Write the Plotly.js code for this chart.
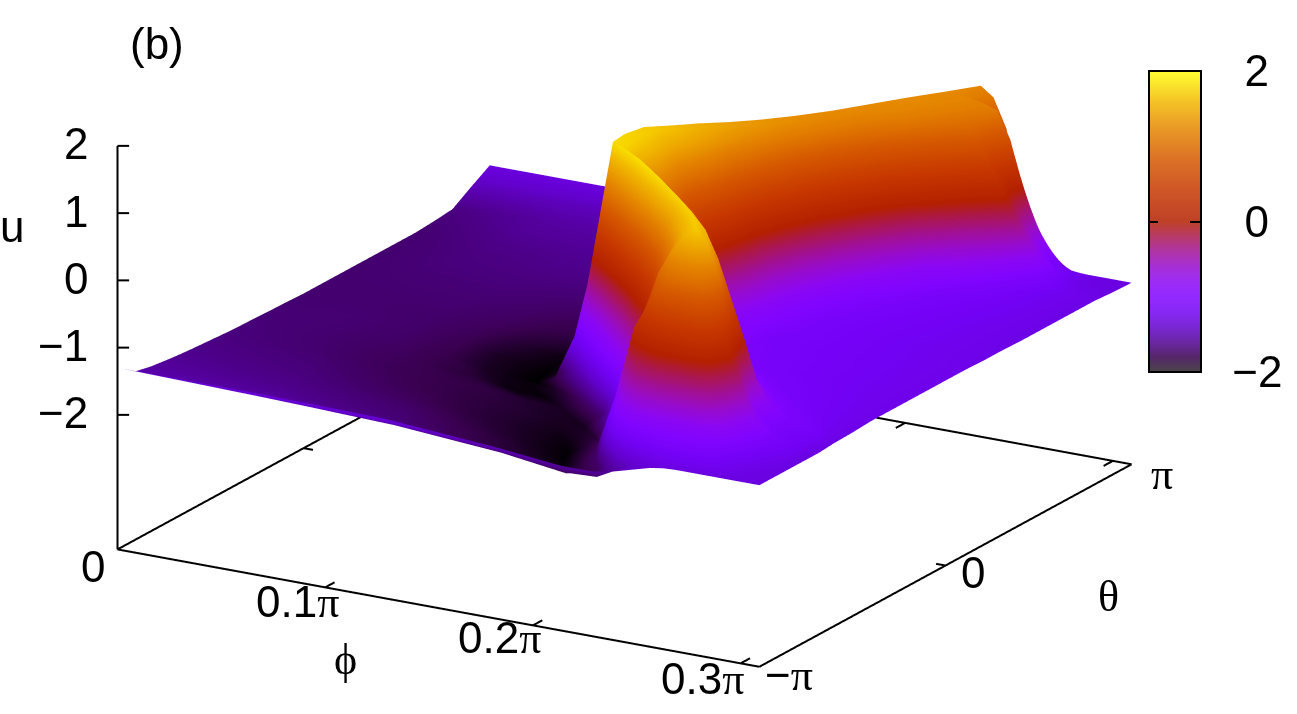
<!DOCTYPE html>
<html>
<head>
<meta charset="utf-8">
<script src="https://cdn.plot.ly/plotly-3.0.1.min.js"></script>
<style>html,body{margin:0;padding:0;background:#fff}#chart{width:1297px;height:714px}</style>
</head>
<body>
<div id="chart"></div>
<script>
// theta in units of pi, one value per row
const thetaValues = [-1, -0.96, -0.9, -0.82, -0.74, -0.68, -0.6, -0.5, -0.4, -0.3, -0.2, -0.1, 0, 0.1, 0.2, 0.3, 0.4, 0.5, 0.6, 0.7, 0.8, 0.9, 1];
// where the crest of the ridge sits in each row, as a share of the phi axis
const ridgeValues = [0.89, 0.885, 0.87, 0.845, 0.82, 0.81, 0.78, 0.73, 0.67, 0.61, 0.54, 0.53, 0.53, 0.545, 0.557, 0.575, 0.595, 0.62, 0.65, 0.68, 0.71, 0.74, 0.765];

// the columns follow the crest, so the ridge stays smooth between rows
const outerLeft = [0, 0.3, 0.6, 0.85];
const flankLeft = [-0.2, -0.15, -0.12, -0.09, -0.06, -0.04, -0.02];
const flankRight = [0, 0.02, 0.04, 0.06, 0.08, 0.1, 0.12, 0.15, 0.2];
const outerRight = [0.4, 1];

const uValues = [
  [-1.30,-1.30,-1.33,-1.45, -1.55,-1.55,-1.50,-1.42,-1.34,-1.31,-1.30, -1.30,-1.30,-1.30,-1.30,-1.30,-1.30,-1.30,-1.30,-1.30, -1.30,-1.30],
  [-1.38,-1.42,-1.47,-1.58, -1.72,-1.70,-1.55,-1.36,-1.22,-1.17,-1.15, -1.15,-1.15,-1.16,-1.18,-1.20,-1.23,-1.26,-1.28,-1.29, -1.30,-1.30],
  [-1.50,-1.54,-1.60,-1.72, -1.85,-1.75,-1.35,-1.05,-0.92,-0.90,-0.90, -0.90,-0.92,-0.96,-1.02,-1.08,-1.15,-1.20,-1.26,-1.29, -1.30,-1.30],
  [-1.55,-1.59,-1.68,-1.85, -1.95,-1.70,-0.95,-0.30,-0.05,0.00,0.00, 0.00,-0.04,-0.16,-0.38,-0.62,-0.85,-1.00,-1.15,-1.27, -1.29,-1.30],
  [-1.58,-1.62,-1.70,-1.85, -1.98,-1.75,-0.90,0.20,0.70,0.95,1.03, 1.08,0.98,0.70,0.30,-0.10,-0.50,-0.80,-1.05,-1.20, -1.27,-1.30],
  [-1.60,-1.64,-1.72,-1.88, -1.98,-1.75,-1.00,0.10,0.95,1.30,1.55, 1.70,1.50,1.05,0.35,-0.25,-0.80,-1.00,-1.12,-1.20, -1.26,-1.30],
  [-1.62,-1.66,-1.76,-1.88, -1.95,-1.85,-1.35,-0.55,0.30,1.00,1.50, 1.72,1.55,1.15,0.60,0.05,-0.55,-0.85,-1.05,-1.15, -1.22,-1.28],
  [-1.64,-1.68,-1.78,-1.85, -1.90,-1.92,-1.70,-1.00,-0.10,0.60,1.25, 1.75,1.58,1.15,0.60,0.05,-0.40,-0.75,-1.00,-1.12, -1.18,-1.27],
  [-1.66,-1.70,-1.78,-1.82, -1.88,-1.90,-1.75,-1.20,-0.45,0.20,1.00, 1.80,1.62,1.15,0.60,0.10,-0.30,-0.60,-0.95,-1.10, -1.16,-1.25],
  [-1.67,-1.70,-1.76,-1.85, -1.96,-1.97,-1.85,-1.40,-0.70,0.10,1.10, 1.82,1.68,1.20,0.70,0.20,-0.20,-0.55,-0.90,-1.08, -1.15,-1.25],
  [-1.68,-1.69,-1.72,-1.80, -1.90,-1.96,-2.00,-1.85,-1.20,-0.40,0.70, 1.80,1.74,1.40,0.95,0.40,-0.10,-0.50,-0.88,-1.07, -1.15,-1.25],
  [-1.69,-1.69,-1.71,-1.78, -1.90,-1.95,-1.98,-1.93,-1.50,-0.80,0.50, 1.75,1.72,1.58,1.20,0.65,0.10,-0.40,-0.85,-1.08, -1.15,-1.25],
  [-1.70,-1.70,-1.71,-1.76, -1.85,-1.92,-1.95,-1.85,-1.40,-0.80,0.60, 1.70,1.68,1.50,1.05,0.50,-0.05,-0.50,-0.90,-1.10, -1.16,-1.25],
  [-1.70,-1.70,-1.70,-1.74, -1.80,-1.82,-1.82,-1.72,-1.40,-0.90,0.30, 1.60,1.58,1.40,0.95,0.40,-0.12,-0.55,-0.92,-1.10, -1.17,-1.25],
  [-1.70,-1.69,-1.69,-1.72, -1.76,-1.78,-1.77,-1.65,-1.40,-1.00,0.00, 1.50,1.48,1.30,0.85,0.30,-0.20,-0.60,-0.95,-1.11, -1.18,-1.26],
  [-1.70,-1.68,-1.67,-1.70, -1.72,-1.72,-1.70,-1.60,-1.40,-1.10,-0.20, 1.40,1.38,1.20,0.78,0.25,-0.22,-0.62,-0.96,-1.11, -1.18,-1.26],
  [-1.70,-1.66,-1.65,-1.66, -1.66,-1.65,-1.62,-1.55,-1.38,-1.10,-0.30, 1.32,1.30,1.15,0.78,0.30,-0.15,-0.55,-0.93,-1.10, -1.18,-1.27],
  [-1.70,-1.65,-1.62,-1.62, -1.60,-1.58,-1.56,-1.50,-1.35,-1.10,-0.30, 1.27,1.25,1.14,0.82,0.40,-0.05,-0.45,-0.88,-1.10, -1.18,-1.27],
  [-1.70,-1.62,-1.60,-1.58, -1.56,-1.54,-1.52,-1.46,-1.30,-1.05,-0.25, 1.25,1.23,1.12,0.88,0.50,0.05,-0.35,-0.82,-1.09, -1.18,-1.27],
  [-1.68,-1.58,-1.56,-1.54, -1.50,-1.48,-1.46,-1.42,-1.28,-1.00,-0.20, 1.25,1.24,1.20,1.10,0.85,0.50,0.10,-0.45,-1.05, -1.19,-1.27],
  [-1.65,-1.54,-1.52,-1.48, -1.45,-1.42,-1.40,-1.36,-1.25,-0.95,-0.15, 1.25,1.24,1.21,1.16,1.05,0.90,0.60,0.10,-1.00, -1.20,-1.27],
  [-1.47,-1.46,-1.44,-1.40, -1.38,-1.37,-1.36,-1.34,-1.25,-1.00,-0.10, 1.24,1.22,1.20,1.16,1.10,0.70,-0.10,-1.00,-1.25, -1.28,-1.29],
  [-1.30,-1.30,-1.30,-1.30, -1.30,-1.30,-1.30,-1.30,-1.28,-1.10,-0.15, 1.22,1.08,0.65,-0.20,-1.05,-1.30,-1.30,-1.30,-1.30, -1.30,-1.30]
];

const serifPi = '<span style="font-family:Liberation Serif">π</span>';
const phiTicks = [0, 0.1, 0.2, 0.3];
const phiTickLabels = ['0', '0.1' + serifPi, '0.2' + serifPi, '0.3' + serifPi];
const phiLabelShift = [[-24, -17], [-28, -15], [-33, -13], [-38, -16]];
const thetaTicks = [-1, 0, 1];
const thetaTickLabels = ['−' + serifPi, '0', serifPi];
const thetaLabelShift = [[30, -8], [28, -7], [30, -10]];
const uTicks = [-2, -1, 0, 1, 2];
const uTickLabels = ['−2', '−1', '0', '1', '2'];
const colorTicks = [-2, 0, 2];
const colorTickLabels = ['\u00a0\u2009−2', '\u00a0\u00a0\u20090', '\u00a0\u00a0\u20092'];

const paletteStops = [0, 0.05, 0.1, 0.15, 0.2, 0.25, 0.3, 0.35, 0.4, 0.45, 0.5, 0.6, 0.7, 0.8, 0.9, 1];
const surfaceColors = ['rgb(0,0,0)','rgb(57,0,79)','rgb(81,0,150)','rgb(99,1,206)','rgb(114,2,243)','rgb(128,4,255)','rgb(140,7,243)','rgb(151,11,206)','rgb(161,16,150)','rgb(171,23,79)','rgb(180,32,0)','rgb(198,55,0)','rgb(213,87,0)','rgb(228,131,0)','rgb(242,186,0)','rgb(255,255,0)'];
const barColors = ['rgb(75,70,75)','rgb(86,38,105)','rgb(107,38,165)','rgb(122,39,213)','rgb(135,40,245)','rgb(147,41,255)','rgb(157,44,245)','rgb(166,47,213)','rgb(175,52,165)','rgb(183,58,105)','rgb(191,65,38)','rgb(206,85,38)','rgb(219,112,38)','rgb(232,149,38)','rgb(244,196,38)','rgb(255,255,50)'];

const phiMax = 0.309, uMin = -4, uMax = 2;
const fontName = 'Liberation Sans, Arial, sans-serif';
const labelSize = 44;

function stops(colors) {
  return paletteStops.map((s, i) => [s, colors[i]]);
}

// phi of every grid point, from the crest position of its row
const phiGrid = ridgeValues.map(crest => {
  const fit = Math.min(1, (1 - crest) / 0.22);
  const rightEnd = crest + 0.2 * fit;
  const row = [];
  outerLeft.forEach(f => row.push(f * (crest - 0.2)));
  flankLeft.forEach(d => row.push(crest + d));
  flankRight.forEach(d => row.push(crest + d * fit));
  outerRight.forEach(f => row.push(rightEnd + f * (1 - rightEnd)));
  return row.map(p => p * phiMax);
});
const thetaGrid = thetaValues.map((v, i) => phiGrid[i].map(() => v));

// box border and the tick marks, hidden behind the surface where they should be
let lineX = [], lineY = [], lineZ = [];
function seg(x0, y0, z0, x1, y1, z1) {
  lineX.push(x0, x1, null);
  lineY.push(y0, y1, null);
  lineZ.push(z0, z1, null);
}
seg(0, -1, uMin, phiMax, -1, uMin);
seg(phiMax, -1, uMin, phiMax, 1, uMin);
seg(phiMax, 1, uMin, 0, 1, uMin);
seg(0, 1, uMin, 0, -1, uMin);
seg(0, -1, uMin, 0, -1, uMax);
phiTicks.slice(1).forEach(v => {
  seg(v, -1, uMin, v, -0.95, uMin);
  seg(v, 1, uMin, v, 0.95, uMin);
});
thetaTicks.forEach(v => {
  seg(phiMax, v, uMin, phiMax - 0.0045, v, uMin);
  seg(0, v, uMin, 0.0045, v, uMin);
});
uTicks.forEach(v => seg(0, -1, v, 0.0042, -0.984, v));

let sceneNotes = [];
function note(x, y, z, text, xshift, yshift, anchor) {
  sceneNotes.push({x: x, y: y, z: z, text: text, showarrow: false, xshift: xshift, yshift: yshift,
    xanchor: anchor || 'center', yanchor: 'middle', font: {family: fontName, size: labelSize, color: '#000'}});
}
phiTicks.forEach((v, i) => note(v, -1, uMin, phiTickLabels[i], phiLabelShift[i][0], phiLabelShift[i][1]));
thetaTicks.forEach((v, i) => note(phiMax, v, uMin, thetaTickLabels[i], thetaLabelShift[i][0], thetaLabelShift[i][1]));
uTicks.forEach((v, i) => note(0, -1, v, uTickLabels[i], -27, 2, 'right'));

function pageNote(px, py, text, family) {
  return {xref: 'paper', yref: 'paper', x: px / 1297, y: 1 - py / 714, text: text, showarrow: false,
    xanchor: 'center', yanchor: 'middle', font: {family: family || fontName, size: labelSize, color: '#000'}};
}

const surface = {
  type: 'surface', x: phiGrid, y: thetaGrid, z: uValues,
  colorscale: stops(surfaceColors), cmin: -2, cmax: 2, showscale: false,
  lighting: {ambient: 1, diffuse: 0, specular: 0, fresnel: 0, roughness: 1},
  hoverinfo: 'skip'
};
const border = {
  type: 'scatter3d', mode: 'lines', x: lineX, y: lineY, z: lineZ,
  line: {color: '#000', width: 4}, hoverinfo: 'skip', showlegend: false
};
const scaleHolder = {
  type: 'scatter3d', mode: 'markers', x: [0, 0], y: [-1, -1], z: [uMin, uMin], hoverinfo: 'skip', showlegend: false,
  marker: {
    size: 1, opacity: 0, color: [-2, 2], cmin: -2, cmax: 2, colorscale: stops(barColors), showscale: true,
    colorbar: {
      xref: 'container', yref: 'container', x: 1149 / 1297, xanchor: 'left', y: 1 - 71 / 714, yanchor: 'top',
      thickness: 52, thicknessmode: 'pixels', len: 301, lenmode: 'pixels', xpad: 0, ypad: 0,
      outlinecolor: '#000', outlinewidth: 2,
      tickmode: 'array', tickvals: colorTicks, ticktext: colorTickLabels, ticks: 'inside', ticklen: 12, tickcolor: '#000', tickwidth: 2,
      tickfont: {family: fontName, size: labelSize, color: '#000'}
    }
  }
};

const viewDist = 2;
const lookAt = {x: 0.081, y: -0.0059, z: -0.138};
const layout = {
  width: 1297, height: 714,
  margin: {l: 0, r: 0, t: 0, b: 0, autoexpand: false},
  paper_bgcolor: '#fff',
  showlegend: false,
  annotations: [
    pageNote(157, 43, '(b)'), pageNote(12, 226, 'u'),
    pageNote(345, 659, 'ϕ', 'Liberation Serif, DejaVu Serif, serif'), pageNote(1108, 596, 'θ', 'Liberation Serif, serif'),
    {xref: 'paper', yref: 'paper', x: 1149 / 1297, y: 1 - 222 / 714, text: ' ', showarrow: true, arrowhead: 0, arrowwidth: 2, arrowcolor: '#000', ax: 12, ay: 0, standoff: 0}
  ],
  scene: {
    domain: {x: [0, 1], y: [0, 1]},
    aspectmode: 'manual', aspectratio: {x: 2.085, y: 2.085, z: 1.195},
    // ranges a little wider than the box, lines right on the limit get clipped away
    xaxis: {range: [-0.0005, phiMax + 0.0005], visible: false},
    yaxis: {range: [-1.003, 1.003], visible: false},
    zaxis: {range: [uMin - 0.01, uMax + 0.01], visible: false},
    camera: {
      projection: {type: 'orthographic'},
      up: {x: 0, y: 0, z: 1},
      center: lookAt,
      eye: {x: lookAt.x + 0.476 * viewDist, y: lookAt.y - 0.821 * viewDist, z: lookAt.z + 0.3154 * viewDist}
    },
    annotations: sceneNotes
  }
};

Plotly.newPlot('chart', [surface, border, scaleHolder], layout, {displayModeBar: false}).then(() => {
  // the left colorbar tick is an arrow annotation, keep it on top of the bar
  const info = document.querySelector('.infolayer');
  document.querySelectorAll('.infolayer .annotation').forEach(a => info.appendChild(a));
});
</script>
</body>
</html>
